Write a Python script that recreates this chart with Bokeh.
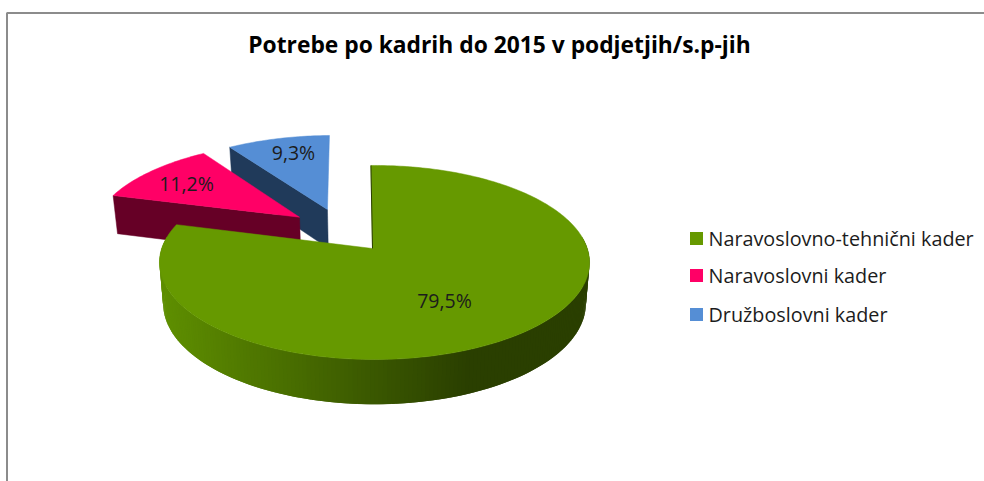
import math
from bokeh.plotting import figure
from bokeh.models import Range1d
from bokeh.core.properties import value
from bokeh.embed import file_html
from bokeh.resources import INLINE

title_text = "Potrebe po kadrih do 2015 v podjetjih/s.p-jih"
categories = ["Naravoslovno-tehnični kader", "Naravoslovni kader", "Družboslovni kader"]
shares = [79.5, 11.2, 9.3]
share_labels = ["79,5%", "11,2%", "9,3%"]
top_colors = ["#669900", "#ff0066", "#558ed5"]
side_colors = ["#2a3f00", "#660026", "#203a5a"]
explode = [(0.0, 0.0), (-0.36, 0.346), (-0.225, 0.436)]
rim_shift = [2.0, 0.0, 0.0]
label_xy = [(444, 300), (186, 183), (293, 152)]
legend_y = [238, 275, 314]

FONT = "Open Sans"
FIRST_ANGLE = -1.1
AX, AY, A, B, K = 372.0, 248.0, 212.8, 95.0, 0.144


def project(X, Y):
    d = 1 + K * Y
    return AX + A * X / d, AY - B * Y / d


def lower(x, y):
    return 374 + (x - 374) * 0.983, y + 38 + (y - 190) * 0.04


def mix(c1, c2, t):
    t = max(0.0, min(1.0, t))
    return "#%02x%02x%02x" % tuple(round(a + (b - a) * t) for a, b in zip(c1, c2))


p = figure(width=984, height=481, x_range=Range1d(0, 984), y_range=Range1d(481, 0),
           toolbar_location=None, output_backend="svg", min_border=0,
           x_axis_location=None, y_axis_location=None, outline_line_color=None)
p.grid.visible = False
p.styles = {"position": "absolute", "left": "0px", "top": "0px"}

# frame
p.line([6.5, 6.5, 984], [481, 12.5, 12.5], line_color="#8c8c8c", line_width=2)

# slice angles, clockwise from the top
starts, acc = [], 0.0
for s in shares:
    starts.append(acc)
    acc += s
sweeps = [s * 3.6 for s in shares]
starts = [s * 3.6 + FIRST_ANGLE for s in starts]


def face(i):
    ex, ey = explode[i]
    n = max(2, int(sweeps[i]))
    pts = [project(ex, ey)]
    for k in range(n + 1):
        t = math.radians(starts[i] + sweeps[i] * k / n)
        x, y = project(ex + math.sin(t), ey + math.cos(t))
        pts.append((x + rim_shift[i], y))
    return pts


# painter's order: back slices first
for i in (2, 1):
    pts = face(i)
    a, b = pts[1], pts[0]
    quad = [a, b, lower(*b), lower(*a)]
    p.patch([q[0] for q in quad], [q[1] for q in quad], fill_color=side_colors[i], line_color=side_colors[i], line_width=0.5)
    p.patch([q[0] for q in pts], [q[1] for q in pts], fill_color=top_colors[i], line_color=top_colors[i], line_width=0.5)

# big slice: shaded rim, each band overlapping the next so no seams show, then top
pts = face(0)
front = [q for q in pts[1:] if q[1] > 235]   # clockwise: right extreme, bottom, left extreme
xs, ys, cs = [], [], []
for j in range(len(front) - 1):
    a, b = front[j], front[min(j + 2, len(front) - 1)]
    la, lb = lower(*a), lower(*b)
    xs.append([a[0], b[0], lb[0], la[0]])
    ys.append([a[1], b[1], lb[1], la[1]])
    cs.append(mix((0x5e, 0x8e, 0x00), (0x2a, 0x3f, 0x00), (a[0] - 165) / 305))
p.patches(xs, ys, fill_color=cs, line_color=None)
p.patch([q[0] for q in pts], [q[1] for q in pts], fill_color=top_colors[0], line_color=top_colors[0], line_width=0.5)
p.line([pts[1][0], pts[0][0]], [pts[1][1], pts[0][1]], line_color=side_colors[0], line_width=1)

# value labels
p.text([q[0] for q in label_xy], [q[1] for q in label_xy], text=share_labels,
       text_font=value(FONT), text_font_size="19.5px", text_color="#1c1c1c",
       text_align="center", text_baseline="middle")

# legend
p.scatter([696] * 3, legend_y, marker="square", size=13, fill_color=top_colors, line_color=None)
p.text([708] * 3, legend_y, text=categories, text_font=value(FONT), text_font_size="19.8px",
       text_color="#1c1c1c", text_align="left", text_baseline="middle")

# title
p.text([499], [44], text=[title_text], text_font=value(FONT), text_font_size="22.8px",
       text_font_style="bold", text_color="#000000", text_align="center", text_baseline="middle")

open("out.html", "w").write(file_html(p, INLINE))
